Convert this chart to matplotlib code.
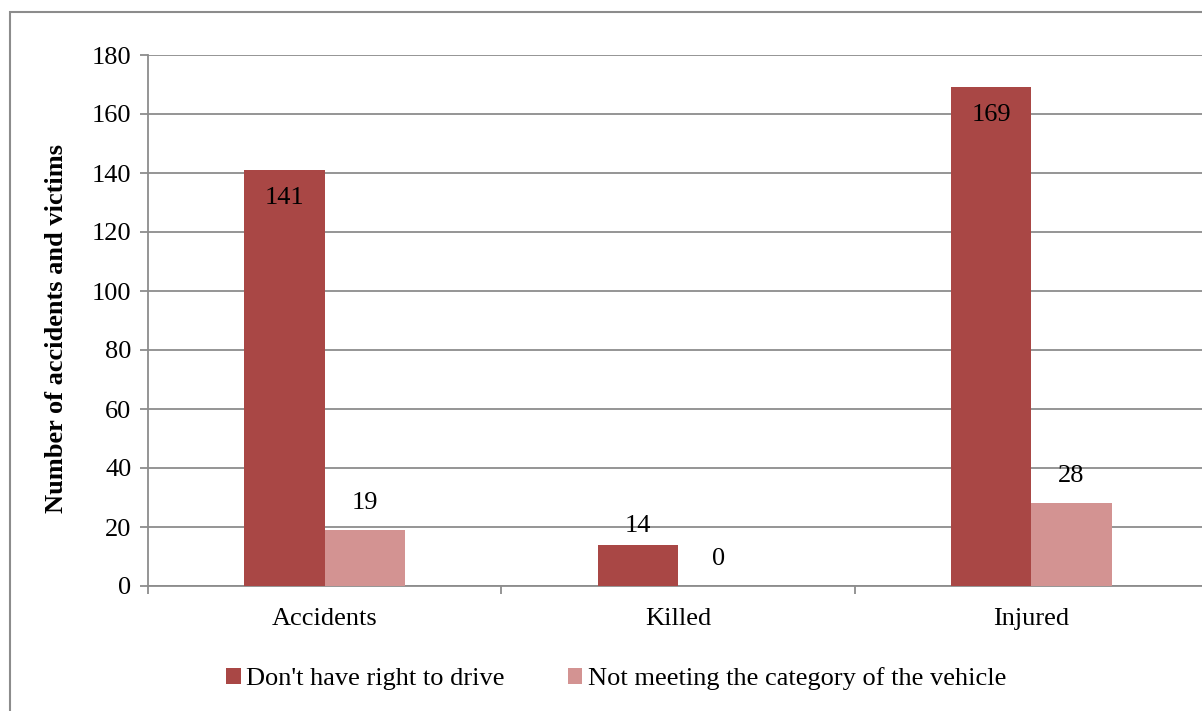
import matplotlib.pyplot as plt
import matplotlib.patches as patches
import numpy as np

plt.rcParams['font.family'] = ['Liberation Serif', 'DejaVu Serif']

categories = ['Accidents', 'Killed', 'Injured']
no_right = [141, 14, 169]
wrong_category = [19, 0, 28]
series_names = ["Don't have right to drive", 'Not meeting the category of the vehicle']
dark = '#A94745'
light = '#D39392'
fs = 19

fig = plt.figure(figsize=(12.02, 7.11), dpi=100)
ax = fig.add_axes([148 / 1202, 1 - 586 / 711, (1208 - 148) / 1202, (586 - 55) / 711])

x = np.arange(len(categories))
w = 0.227
b1 = ax.bar(x - w / 2, no_right, w, color=dark, label=series_names[0], zorder=3)
b2 = ax.bar(x + w / 2, wrong_category, w, color=light, label=series_names[1], zorder=3)

# value labels: tall bars get the number inside the top
for rect, v in zip(b1, no_right):
    cx = rect.get_x() + rect.get_width() / 2
    if v > 100:
        ax.text(cx, v - 9.5, str(v), ha='center', va='center', fontsize=fs, zorder=4)
    else:
        ax.text(cx, v + 6.5, str(v), ha='center', va='center', fontsize=fs, zorder=4)
for rect, v in zip(b2, wrong_category):
    cx = rect.get_x() + rect.get_width() / 2
    ax.text(cx, v + 9.3, str(v), ha='center', va='center', fontsize=fs, zorder=4)

ax.set_xlim(-0.5, 2.5)
ax.set_ylim(0, 180)
ax.set_yticks(range(0, 181, 20))
ax.yaxis.grid(True, color='#8c8c8c', linewidth=1.3, zorder=0)
ax.set_xticks(x)
ax.set_xticklabels(categories, fontsize=fs)
ax.set_xticks([-0.5, 0.5, 1.5, 2.5], minor=True)
ax.tick_params(axis='x', which='major', length=0, pad=16)
ax.tick_params(axis='x', which='minor', length=6, color='#8c8c8c', width=1.3)
ax.tick_params(axis='y', labelsize=fs, length=6, color='#8c8c8c', width=1.3, pad=6)
for s in ['top', 'right']:
    ax.spines[s].set_visible(False)
ax.spines['left'].set_color('#8c8c8c')
ax.spines['bottom'].set_color('#8c8c8c')
ax.spines['left'].set_linewidth(1.3)
ax.spines['bottom'].set_linewidth(1.3)
ax.set_ylabel('Number of accidents and victims', fontsize=fs, fontweight='bold')
ax.yaxis.set_label_coords(-0.0755, 0.484)

fig.legend(handles=[b1, b2], loc='center', bbox_to_anchor=(616 / 1202, 1 - 679 / 711),
           ncol=2, frameon=False, fontsize=fs, handlelength=0.55, handleheight=0.55,
           handletextpad=0.2, columnspacing=2.4)

# outer chart border
border = patches.Rectangle((10 / 1202, -0.1), 1.2, 1 - 12 / 711 + 0.1, transform=fig.transFigure,
                           fill=False, edgecolor='#8c8c8c', linewidth=1.5)
fig.patches.append(border)

fig.savefig('out.png', dpi=100)
